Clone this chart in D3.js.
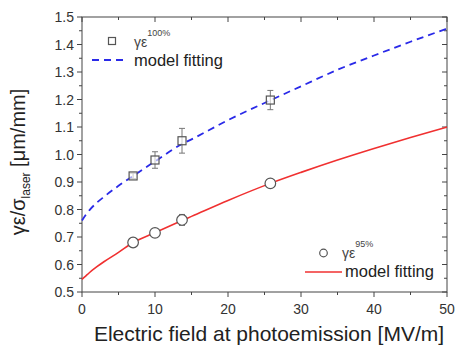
<!DOCTYPE html>
<html><head><meta charset="utf-8">
<script src="https://cdn.jsdelivr.net/npm/d3@7"></script>
<style>body{margin:0;background:#fff}svg{display:block}</style>
</head><body>
<svg id="c" width="456" height="346"></svg>
<script>
const fieldPts = [7, 10, 13.7, 25.8];
const eps100 = [0.922, 0.980, 1.050, 1.198];
const err100 = [0.010, 0.030, 0.045, 0.035];
const eps95 = [0.680, 0.715, 0.762, 0.895];
const err95 = [0.008, 0.010, 0.020, 0.012];
const fitX = [0, 0.5, 1, 2, 3, 5, 7, 10, 13.7, 15, 20, 25.8, 30, 35, 40, 45, 50];
const fit100 = [0.760, 0.780, 0.797, 0.824, 0.846, 0.886, 0.922, 0.975, 1.038, 1.055, 1.125, 1.197, 1.248, 1.308, 1.360, 1.410, 1.458];
const fit95 = [0.546, 0.558, 0.570, 0.591, 0.610, 0.644, 0.680, 0.716, 0.760, 0.775, 0.833, 0.895, 0.935, 0.980, 1.022, 1.062, 1.100];
const xTicks = [0, 10, 20, 30, 40, 50];
const yTicks = [0.5, 0.6, 0.7, 0.8, 0.9, 1.0, 1.1, 1.2, 1.3, 1.4, 1.5];

const svg = d3.select('#c');
const L = 82, R = 447, T = 17, B = 292;
const x = d3.scaleLinear().domain([0, 50]).range([L, R]);
const y = d3.scaleLinear().domain([0.5, 1.5]).range([B, T]);
const font = 'Liberation Sans, Arial, sans-serif';
const axCol = '#444';

svg.append('rect').attr('x', L).attr('y', T).attr('width', R - L).attr('height', B - T)
  .attr('fill', 'none').attr('stroke', axCol).attr('stroke-width', 1);

const xMinor = d3.range(0, 50.01, 5);
const yMinor = d3.range(0.5, 1.501, 0.05);
xMinor.forEach((v, i) => {
  const len = i % 2 === 0 ? 5 : 3;
  svg.append('line').attr('x1', x(v)).attr('x2', x(v)).attr('y1', B).attr('y2', B + len).attr('stroke', axCol);
  svg.append('line').attr('x1', x(v)).attr('x2', x(v)).attr('y1', T).attr('y2', T + len).attr('stroke', axCol);
});
yMinor.forEach((v, i) => {
  const len = i % 2 === 0 ? 5 : 3;
  svg.append('line').attr('x1', L).attr('x2', L - len).attr('y1', y(v)).attr('y2', y(v)).attr('stroke', axCol);
  svg.append('line').attr('x1', R).attr('x2', R - len).attr('y1', y(v)).attr('y2', y(v)).attr('stroke', axCol);
});
xTicks.forEach(v => {
  svg.append('text').attr('x', x(v)).attr('y', B + 22).attr('text-anchor', 'middle')
    .attr('font-family', font).attr('font-size', 14).attr('fill', '#333').text(v);
});
yTicks.forEach(v => {
  svg.append('text').attr('x', L - 8).attr('y', y(v) + 5).attr('text-anchor', 'end')
    .attr('font-family', font).attr('font-size', 14).attr('fill', '#333').text(v.toFixed(1));
});

svg.append('text').attr('x', 269).attr('y', 341).attr('text-anchor', 'middle')
  .attr('font-family', font).attr('font-size', 21).attr('fill', '#222')
  .text('Electric field at photoemission [MV/m]');
const yl = svg.append('text').attr('transform', `translate(25,162) rotate(-90)`)
  .attr('text-anchor', 'middle').attr('font-family', font).attr('font-size', 20).attr('fill', '#222');
yl.append('tspan').text('γε/σ');
yl.append('tspan').attr('font-size', 12).attr('dy', 5).text('laser');
yl.append('tspan').attr('dy', -5).text(' [μm/mm]');

const line = d3.line().curve(d3.curveMonotoneX);
svg.append('path').attr('d', line(fitX.map((v, i) => [x(v), y(fit100[i])])))
  .attr('fill', 'none').attr('stroke', '#2a2ae8').attr('stroke-width', 1.8).attr('stroke-dasharray', '7,5');
svg.append('path').attr('d', line(fitX.map((v, i) => [x(v), y(fit95[i])])))
  .attr('fill', 'none').attr('stroke', '#f03030').attr('stroke-width', 1.6);

const markCol = '#555';
function errBar(xv, yv, e) {
  const g = svg.append('g').attr('stroke', '#777').attr('stroke-width', 1);
  g.append('line').attr('x1', x(xv)).attr('x2', x(xv)).attr('y1', y(yv - e)).attr('y2', y(yv + e));
  g.append('line').attr('x1', x(xv) - 3).attr('x2', x(xv) + 3).attr('y1', y(yv - e)).attr('y2', y(yv - e));
  g.append('line').attr('x1', x(xv) - 3).attr('x2', x(xv) + 3).attr('y1', y(yv + e)).attr('y2', y(yv + e));
}
fieldPts.forEach((v, i) => {
  errBar(v, eps100[i], err100[i]);
  svg.append('rect').attr('x', x(v) - 4).attr('y', y(eps100[i]) - 4).attr('width', 8).attr('height', 8)
    .attr('fill', 'rgba(255,255,255,0.6)').attr('stroke', markCol).attr('stroke-width', 1.2);
  errBar(v, eps95[i], err95[i]);
  svg.append('circle').attr('cx', x(v)).attr('cy', y(eps95[i])).attr('r', 5.3)
    .attr('fill', '#fff').attr('stroke', markCol).attr('stroke-width', 1.2);
});

svg.append('rect').attr('x', 108.5).attr('y', 37.5).attr('width', 7).attr('height', 7)
  .attr('fill', '#fff').attr('stroke', markCol).attr('stroke-width', 1.2);
const l1 = svg.append('text').attr('x', 134).attr('y', 47).attr('font-family', font).attr('font-size', 14).attr('fill', '#444');
l1.append('tspan').text('γε');
l1.append('tspan').attr('font-size', 9).attr('dy', -11).text('100%');
svg.append('line').attr('x1', 92).attr('x2', 126).attr('y1', 60).attr('y2', 60)
  .attr('stroke', '#2a2ae8').attr('stroke-width', 1.8).attr('stroke-dasharray', '7,5');
svg.append('text').attr('x', 134).attr('y', 66).attr('font-family', font).attr('font-size', 16.5).attr('fill', '#222').text('model fitting');

svg.append('circle').attr('cx', 323.5).attr('cy', 253).attr('r', 3.8)
  .attr('fill', '#fff').attr('stroke', markCol).attr('stroke-width', 1.2);
const l2 = svg.append('text').attr('x', 342).attr('y', 258).attr('font-family', font).attr('font-size', 14).attr('fill', '#444');
l2.append('tspan').text('γε');
l2.append('tspan').attr('font-size', 9).attr('dy', -11).text('95%');
svg.append('line').attr('x1', 305).attr('x2', 342).attr('y1', 272).attr('y2', 272)
  .attr('stroke', '#f03030').attr('stroke-width', 1.6);
svg.append('text').attr('x', 345).attr('y', 277).attr('font-family', font).attr('font-size', 16.5).attr('fill', '#222').text('model fitting');
</script>
</body></html>
